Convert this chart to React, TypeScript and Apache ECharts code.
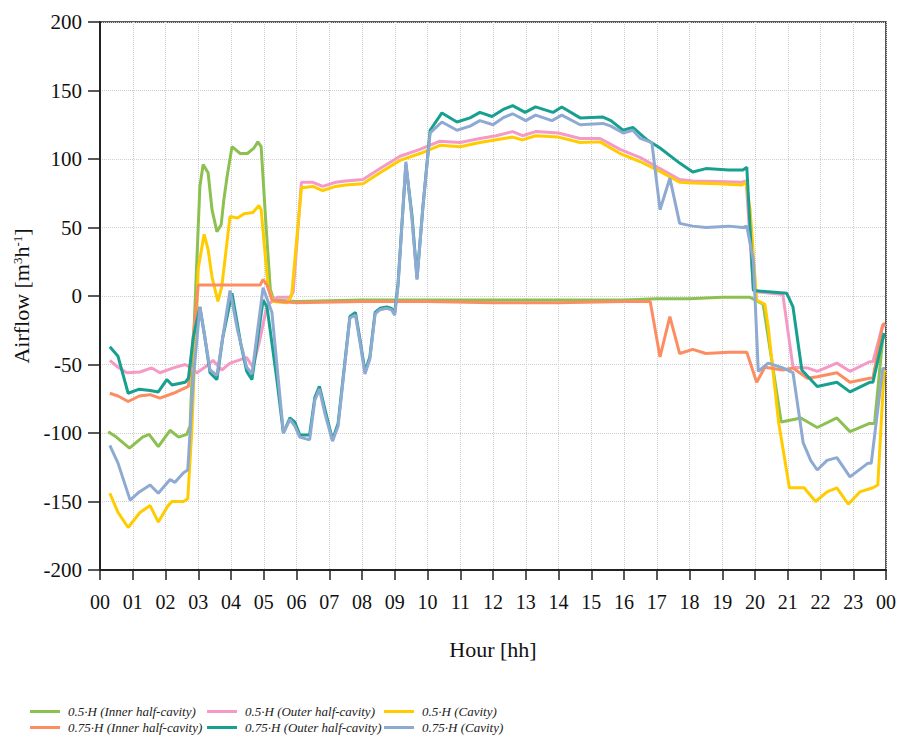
import React, { useEffect, useRef } from "react";
import * as echarts from "echarts";

const seriesNames = [
  "0.5·H (Inner half-cavity)",
  "0.5·H (Outer half-cavity)",
  "0.5·H (Cavity)",
  "0.75·H (Inner half-cavity)",
  "0.75·H (Outer half-cavity)",
  "0.75·H (Cavity)",
];
const seriesColors = ["#8cc152", "#f59ac6", "#ffcc00", "#fc8d62", "#17a08f", "#8eaad2"];

const hourLabels = [
  "00", "01", "02", "03", "04", "05", "06", "07", "08", "09", "10", "11", "12",
  "13", "14", "15", "16", "17", "18", "19", "20", "21", "22", "23", "00",
];

// [hour, airflow m3/h]
const inner05: number[][] = [
  [0.25, -99], [0.5, -103], [0.9, -111], [1.3, -103], [1.5, -101], [1.78, -110], [2.14, -98],
  [2.4, -103], [2.65, -101], [2.75, -95], [3.05, 80], [3.15, 96], [3.3, 90], [3.42, 63],
  [3.57, 47], [3.7, 52], [3.78, 70], [3.88, 87], [4.03, 109], [4.28, 104], [4.5, 104],
  [4.7, 108], [4.82, 112.5], [4.92, 109], [5.06, 55], [5.2, 5], [5.3, -3], [6, -4], [8, -3],
  [10, -3], [12, -3], [14, -3], [16, -3], [17, -2], [18, -2], [19, -1], [19.85, -1],
  [20.25, -6], [20.8, -92], [21.4, -89], [21.9, -96], [22.5, -89], [22.9, -99], [23.5, -93],
  [23.65, -93], [23.9, -31], [23.97, -30],
];
const outer05: number[][] = [
  [0.3, -47], [0.55, -52], [0.82, -56], [1.22, -55.5], [1.58, -52.5], [1.83, -56], [2.24, -52.5],
  [2.6, -50], [2.75, -52], [2.96, -56], [3.2, -52], [3.45, -47], [3.72, -54], [3.97, -49],
  [4.48, -45], [4.67, -52], [4.88, -32], [5.1, -7], [5.4, -1], [5.8, -1], [5.9, 3], [6.15, 83],
  [6.5, 83], [6.8, 80], [7.2, 83], [7.5, 84], [8.03, 85], [8.55, 93], [9.16, 102], [9.77, 107],
  [10.38, 113], [11.0, 112], [11.6, 115], [12.1, 117], [12.6, 120], [12.9, 117], [13.3, 120],
  [14.0, 119], [14.66, 115], [15.27, 115], [15.88, 107], [16.5, 101], [17.1, 93], [17.7, 85],
  [18.1, 84], [18.9, 83.5], [19.6, 83], [19.73, 84], [19.95, 5], [20.1, 3], [20.85, 1],
  [21.16, -52], [21.6, -52.5], [21.9, -55], [22.5, -49], [22.9, -55], [23.5, -48], [23.6, -48],
  [23.88, -23], [23.97, -21],
];
const cavity05: number[][] = [
  [0.3, -144], [0.55, -158], [0.86, -169], [1.22, -158], [1.53, -153], [1.78, -165], [2.08, -153],
  [2.2, -150], [2.55, -150], [2.68, -148], [2.8, -100], [3.0, 20], [3.18, 45], [3.3, 34],
  [3.42, 14], [3.6, -4], [3.72, 7], [3.97, 58], [4.2, 57], [4.4, 60], [4.67, 61], [4.85, 66],
  [4.92, 63], [5.13, 7], [5.28, -4], [5.7, -5], [5.85, 0], [6.15, 79], [6.5, 80], [6.8, 77],
  [7.2, 80], [7.5, 81], [8.03, 82], [8.55, 90], [9.16, 99], [9.77, 104], [10.38, 110],
  [11.0, 109], [11.6, 112], [12.1, 114], [12.6, 116], [12.9, 114], [13.3, 117], [14.0, 116],
  [14.66, 112], [15.27, 112.5], [15.88, 104], [16.5, 98], [17.1, 91], [17.7, 83], [18.1, 82.5],
  [18.9, 82], [19.6, 81], [19.73, 83], [19.85, 63], [20.05, -3], [20.3, -6], [20.4, -22],
  [20.72, -92], [21.05, -140], [21.5, -140], [21.85, -150], [22.2, -143], [22.5, -140],
  [22.85, -152], [23.2, -143], [23.6, -140], [23.75, -138], [23.94, -55], [23.98, -54],
];
const inner075: number[][] = [
  [0.3, -71], [0.55, -73], [0.86, -77], [1.2, -73], [1.53, -72], [1.83, -74.5], [2.24, -71],
  [2.6, -67], [2.7, -66], [3.0, 8], [3.5, 8], [4.0, 8], [4.5, 8], [4.89, 8], [4.98, 12],
  [5.1, 8], [5.25, -3], [5.5, -4], [6, -5], [8, -4], [10, -4], [12, -5], [14, -5], [16, -4],
  [16.8, -4], [17.1, -44.5], [17.4, -15], [17.7, -42], [18.1, -39], [18.5, -42], [19.2, -41],
  [19.75, -41], [20.05, -63], [20.3, -52], [20.85, -54], [21.16, -52.5], [21.6, -60],
  [21.9, -59], [22.5, -56], [22.9, -63], [23.5, -60], [23.6, -60], [23.9, -21], [23.97, -20],
];
const outer075: number[][] = [
  [0.3, -37], [0.55, -44], [0.86, -71], [1.2, -68], [1.53, -69], [1.78, -70], [2.04, -61],
  [2.2, -65], [2.6, -63], [2.7, -60], [2.85, -30], [3.05, -8], [3.2, -30], [3.36, -56],
  [3.57, -61], [3.75, -30], [4.03, 2], [4.3, -35], [4.48, -55], [4.64, -61], [4.98, -3],
  [5.1, -8], [5.4, -61], [5.6, -100], [5.8, -89], [5.95, -92], [6.1, -101.5], [6.4, -101.5],
  [6.56, -74], [6.7, -66], [6.87, -83], [7.1, -105], [7.27, -93], [7.63, -15], [7.8, -12],
  [7.94, -32], [8.09, -55], [8.24, -44.5], [8.4, -12], [8.55, -9], [8.76, -8], [8.9, -9],
  [9.0, -12], [9.1, 9], [9.34, 96], [9.53, 58], [9.68, 13], [9.86, 65], [10.08, 121],
  [10.44, 133.6], [10.9, 127], [11.3, 130], [11.6, 134], [11.97, 131], [12.3, 136], [12.6, 139],
  [12.98, 134], [13.3, 138], [13.83, 134], [14.1, 138], [14.66, 130], [15.36, 130.6],
  [15.6, 128], [15.97, 121], [16.27, 123], [16.7, 114], [17.1, 108], [17.7, 97], [18.1, 90.5],
  [18.5, 93], [19.2, 92], [19.63, 92], [19.75, 94], [19.95, 4], [20.97, 2], [21.16, -8],
  [21.43, -54], [21.9, -66], [22.5, -63], [22.9, -70], [23.5, -63], [23.6, -63], [23.94, -27],
];
const cavity075: number[][] = [
  [0.3, -109], [0.55, -122], [0.92, -149], [1.2, -143], [1.53, -138], [1.78, -144], [2.14, -134],
  [2.29, -136], [2.55, -129], [2.68, -127], [2.85, -60], [3.05, -8], [3.2, -30], [3.36, -54],
  [3.57, -58], [3.75, -30], [3.97, 4], [4.2, -25], [4.48, -52], [4.64, -57], [4.98, 6],
  [5.25, -12], [5.4, -50], [5.6, -100], [5.8, -90], [5.95, -95], [6.1, -103], [6.4, -105],
  [6.56, -76], [6.7, -68], [6.87, -86], [7.1, -106], [7.27, -95], [7.63, -16], [7.8, -14],
  [7.94, -34], [8.09, -57], [8.24, -46], [8.4, -13], [8.55, -10], [8.76, -9], [8.9, -10],
  [9.0, -14], [9.1, 7], [9.34, 98], [9.53, 55], [9.68, 12], [9.86, 65], [10.08, 119],
  [10.44, 127], [10.9, 121], [11.3, 124], [11.6, 128], [12.0, 125], [12.3, 130], [12.6, 133],
  [13.0, 128], [13.3, 132], [13.8, 128], [14.1, 132], [14.66, 125], [15.36, 126], [15.6, 124],
  [15.97, 119], [16.27, 121], [16.5, 115], [16.85, 112], [17.1, 63], [17.4, 86], [17.7, 53],
  [18.1, 51], [18.5, 50], [19.2, 51], [19.63, 50], [19.75, 51], [19.95, 26], [20.1, -55],
  [20.4, -49], [20.85, -52.5], [21.16, -56], [21.47, -107], [21.7, -120], [21.9, -127],
  [22.2, -120], [22.5, -118], [22.9, -132], [23.45, -122], [23.55, -122], [23.9, -53],
  [23.97, -53],
];

const seriesData = [inner05, outer05, cavity05, inner075, outer075, cavity075];

const FONT = "Liberation Serif";

export default function App() {
  const ref = useRef<HTMLDivElement>(null);
  useEffect(() => {
    document.body.style.margin = "0";
    if (!ref.current) return;
    const chart = echarts.init(ref.current, undefined, { renderer: "svg" });
    const legendLeft = [30, 207, 384];
    const legendTop = [705, 721];
    chart.setOption({
      animation: false,
      backgroundColor: "#ffffff",
      grid: {
        left: 100,
        right: 18,
        top: 22,
        bottom: 168,
        show: true,
        borderColor: "#222",
        borderWidth: 1.5,
      },
      legend: seriesNames.map((name, i) => ({
        orient: "horizontal",
        left: legendLeft[i % 3],
        top: legendTop[Math.floor(i / 3)],
        data: [name],
        icon: "rect",
        itemWidth: 30,
        itemHeight: 3,
        padding: 0,
        textStyle: {
          fontFamily: FONT,
          fontStyle: "italic",
          fontSize: 13,
          color: "#222",
          padding: [0, 0, 0, 3],
        },
      })),
      xAxis: {
        type: "value",
        min: 0,
        max: 24,
        interval: 1,
        name: "Hour [hh]",
        nameLocation: "middle",
        nameGap: 68,
        nameTextStyle: { fontFamily: FONT, fontSize: 22, color: "#111" },
        axisLine: { onZero: false, lineStyle: { color: "#222", width: 2 } },
        axisTick: { length: 10, lineStyle: { color: "#222", width: 1.5 } },
        axisLabel: {
          formatter: (v: number) => hourLabels[Math.round(v)],
          fontFamily: FONT,
          fontSize: 20,
          color: "#111",
          margin: 22,
        },
        splitLine: { show: true, lineStyle: { type: "dotted", color: "#cfcfcf", width: 1 } },
      },
      yAxis: {
        type: "value",
        min: -200,
        max: 200,
        interval: 50,
        name: "Airflow [m{sup|3}h{sup|-1}]",
        nameLocation: "middle",
        nameGap: 62,
        nameTextStyle: {
          fontFamily: FONT,
          fontSize: 22,
          color: "#111",
          rich: { sup: { fontFamily: FONT, fontSize: 13, color: "#111", verticalAlign: "top" } },
        },
        axisLine: { show: true, onZero: false, lineStyle: { color: "#222", width: 2 } },
        axisTick: { show: true, length: 12, lineStyle: { color: "#222", width: 1.5 } },
        axisLabel: { fontFamily: FONT, fontSize: 21, color: "#111", margin: 18 },
        splitLine: { show: true, lineStyle: { type: "dotted", color: "#cfcfcf", width: 1 } },
      },
      series: seriesData.map((d, i) => ({
        name: seriesNames[i],
        type: "line",
        data: d,
        showSymbol: false,
        symbol: "none",
        color: seriesColors[i],
        lineStyle: { width: 3, color: seriesColors[i] },
      })),
    });
    return () => chart.dispose();
  }, []);
  return <div ref={ref} style={{ width: 904, height: 738 }} />;
}
